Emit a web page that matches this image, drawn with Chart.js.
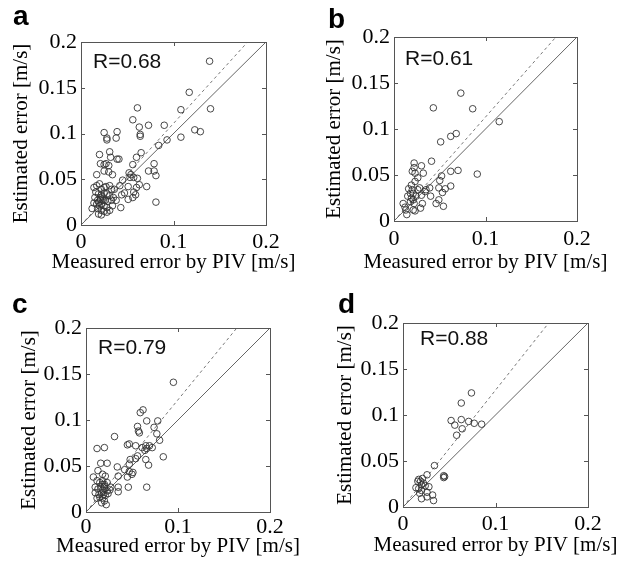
<!DOCTYPE html>
<html>
<head>
<meta charset="utf-8">
<script src="https://cdn.jsdelivr.net/npm/chart.js@4.4.1/dist/chart.umd.min.js"></script>
<style>
  html, body { margin: 0; padding: 0; background: #fff; }
  #wrap { position: relative; width: 618px; height: 566px; overflow: hidden; }
  canvas { position: absolute; }
</style>
</head>
<body>
<div id="wrap">
  <canvas id="panelA" width="309" height="283" style="left:0;top:0"></canvas>
  <canvas id="panelB" width="309" height="283" style="left:309px;top:0"></canvas>
  <canvas id="panelC" width="309" height="283" style="left:0;top:283px"></canvas>
  <canvas id="panelD" width="309" height="283" style="left:309px;top:283px"></canvas>
</div>
<script>
const panelLetters = ["a", "b", "c", "d"];
const rLabels = ["R=0.68", "R=0.61", "R=0.79", "R=0.88"];
// slope of the dashed fit line in each panel
const fitSlopes = [1.11, 1.13, 1.22, 1.27];
const xTickValues = [0, 0.1, 0.2];
const xTickLabels = ["0", "0.1", "0.2"];
const yTickValues = [0, 0.05, 0.1, 0.15, 0.2];
const yTickLabels = ["0", "0.05", "0.1", "0.15", "0.2"];
const xAxisTitle = "Measured error by PIV [m/s]";
const yAxisTitle = "Estimated error [m/s]";

const pointsA = [
  [0.139,0.179],[0.117,0.145],[0.140,0.127],[0.108,0.126],[0.123,0.104],[0.129,0.102],
  [0.108,0.096],[0.093,0.093],[0.084,0.087],[0.090,0.109],[0.073,0.109],[0.061,0.128],
  [0.056,0.115],[0.063,0.107],[0.064,0.099],[0.064,0.097],[0.065,0.079],[0.060,0.074],
  [0.056,0.066],[0.079,0.067],[0.073,0.059],[0.079,0.059],[0.081,0.054],[0.071,0.042],
  [0.081,0.025],[0.025,0.101],[0.028,0.093],[0.028,0.095],[0.039,0.102],[0.038,0.095],
  [0.031,0.080],[0.020,0.077],[0.032,0.074],[0.039,0.072],[0.041,0.072],[0.027,0.067],
  [0.030,0.065],[0.025,0.066],[0.021,0.067],[0.030,0.058],[0.034,0.055],[0.017,0.055],
  [0.025,0.059],[0.052,0.057],[0.054,0.055],[0.057,0.052],[0.053,0.052],[0.061,0.051],
  [0.063,0.044],[0.060,0.041],[0.057,0.036],[0.059,0.033],[0.051,0.042],[0.045,0.049],
  [0.042,0.043],[0.047,0.035],[0.044,0.033],[0.051,0.028],[0.043,0.019],[0.036,0.039],
  [0.035,0.030],[0.056,0.030],
  [0.014,0.041],[0.017,0.043],[0.020,0.045],[0.022,0.039],[0.025,0.041],[0.027,0.042],
  [0.031,0.043],[0.033,0.039],[0.016,0.036],[0.019,0.034],[0.022,0.033],[0.025,0.035],
  [0.028,0.034],[0.031,0.032],[0.015,0.030],[0.018,0.027],[0.021,0.028],[0.024,0.027],
  [0.026,0.027],[0.029,0.026],[0.033,0.027],[0.017,0.023],[0.020,0.021],[0.022,0.023],
  [0.025,0.021],[0.028,0.019],[0.018,0.018],[0.022,0.016],[0.025,0.015],[0.028,0.014],
  [0.019,0.012],[0.022,0.011],[0.031,0.016],[0.034,0.021],[0.012,0.018],[0.014,0.024],
  [0.038,0.027],[0.021,0.030],[0.023,0.031],[0.019,0.025]
];

const pointsB = [
  [0.073,0.139],[0.043,0.123],[0.086,0.122],[0.115,0.108],[0.068,0.095],[0.062,0.092],
  [0.051,0.086],[0.041,0.065],[0.022,0.063],[0.030,0.060],[0.022,0.058],[0.020,0.054],
  [0.032,0.052],[0.023,0.052],[0.026,0.047],[0.023,0.043],[0.019,0.039],[0.052,0.049],
  [0.050,0.044],[0.062,0.054],[0.070,0.055],[0.091,0.051],[0.035,0.034],[0.039,0.036],
  [0.049,0.036],[0.053,0.031],[0.056,0.035],[0.062,0.038],[0.040,0.027],[0.049,0.023],
  [0.046,0.019],[0.054,0.016],[0.031,0.019],[0.029,0.014],[0.023,0.011],[0.021,0.012],
  [0.014,0.007],[0.010,0.019],[0.012,0.015],[0.015,0.027],[0.018,0.030],[0.019,0.025],
  [0.021,0.030],[0.024,0.027],[0.026,0.034],[0.021,0.023],[0.018,0.021],[0.030,0.028],
  [0.034,0.032],[0.028,0.036],[0.020,0.034],[0.016,0.035],[0.022,0.019],[0.013,0.012]
];

const pointsC = [
  [0.095,0.141],[0.062,0.111],[0.059,0.108],[0.056,0.093],[0.066,0.099],[0.078,0.099],
  [0.074,0.092],[0.058,0.086],[0.057,0.088],[0.077,0.085],[0.080,0.078],[0.031,0.082],
  [0.045,0.073],[0.047,0.074],[0.054,0.072],[0.061,0.070],[0.064,0.067],[0.066,0.069],
  [0.069,0.072],[0.072,0.070],[0.065,0.072],[0.084,0.060],[0.065,0.057],[0.068,0.051],
  [0.056,0.061],[0.054,0.058],[0.048,0.057],[0.047,0.052],[0.034,0.049],[0.042,0.046],
  [0.047,0.044],[0.051,0.043],[0.050,0.041],[0.045,0.038],[0.035,0.039],[0.066,0.027],
  [0.046,0.027],[0.035,0.027],[0.035,0.022],[0.012,0.069],[0.020,0.070],[0.016,0.053],
  [0.023,0.053],[0.013,0.045],[0.018,0.041],[0.021,0.039],[0.008,0.038],[0.012,0.034],
  [0.015,0.032],[0.018,0.034],[0.020,0.030],[0.023,0.032],[0.010,0.027],[0.013,0.025],
  [0.016,0.027],[0.018,0.024],[0.020,0.026],[0.023,0.023],[0.010,0.021],[0.014,0.019],
  [0.017,0.021],[0.019,0.019],[0.021,0.018],[0.024,0.020],[0.015,0.016],[0.018,0.015],
  [0.020,0.012],[0.022,0.008],[0.017,0.010],[0.012,0.015],[0.026,0.024],[0.027,0.027],
  [0.018,0.030],[0.020,0.028]
];

const pointsD = [
  [0.074,0.124],[0.063,0.113],[0.052,0.094],[0.063,0.095],[0.071,0.093],[0.077,0.091],
  [0.085,0.090],[0.056,0.089],[0.064,0.085],[0.058,0.078],[0.034,0.045],[0.026,0.035],
  [0.044,0.034],[0.044,0.032],[0.045,0.033],[0.017,0.030],[0.019,0.028],[0.022,0.026],
  [0.020,0.024],[0.028,0.022],[0.024,0.023],[0.014,0.021],[0.017,0.020],[0.020,0.018],
  [0.026,0.016],[0.018,0.015],[0.032,0.013],[0.026,0.011],[0.020,0.009],[0.033,0.007],
  [0.016,0.028],[0.021,0.031]
];

const panelPoints = [pointsA, pointsB, pointsC, pointsD];

// canvas-local plot box [left, right, top, bottom] and text placement
const panelLayout = [
  { id: "panelA", area: [81, 266, 42, 225], yTitleX: 21, xTitleY: 262, xTickPad: 4, letter: [13, 25], rText: [93, 68] },
  { id: "panelB", area: [85, 268, 37, 221], yTitleX: 25, xTitleY: 262, xTickPad: 5, letter: [19, 28], rText: [96, 65] },
  { id: "panelC", area: [86, 270, 45, 229], yTitleX: 29, xTitleY: 263, xTickPad: 2, letter: [12, 30], rText: [98, 71] },
  { id: "panelD", area: [94, 279, 40, 224], yTitleX: 36, xTitleY: 262, xTickPad: 4, letter: [29, 30], rText: [111, 62] }
];

const serif = "'Liberation Serif', 'Times New Roman', serif";
const sans = "'Liberation Sans', Arial, sans-serif";

// MATLAB-style frame with inward ticks, axis titles, panel letter and R value
const framePlugin = {
  id: "frame",
  afterDraw(chart, args, opts) {
    const { ctx, chartArea: a, scales } = chart;
    ctx.save();
    ctx.strokeStyle = "#555";
    ctx.lineWidth = 1;
    ctx.strokeRect(Math.round(a.left) + 0.5, Math.round(a.top) + 0.5,
      Math.round(a.right - a.left), Math.round(a.bottom - a.top));
    const len = 4;
    ctx.beginPath();
    xTickValues.forEach(v => {
      const px = Math.round(scales.x.getPixelForValue(v)) + 0.5;
      ctx.moveTo(px, a.bottom); ctx.lineTo(px, a.bottom - len);
      ctx.moveTo(px, a.top); ctx.lineTo(px, a.top + len);
    });
    yTickValues.forEach(v => {
      const py = Math.round(scales.y.getPixelForValue(v)) + 0.5;
      ctx.moveTo(a.left, py); ctx.lineTo(a.left + len, py);
      ctx.moveTo(a.right, py); ctx.lineTo(a.right - len, py);
    });
    ctx.stroke();

    ctx.fillStyle = "#000";
    ctx.font = "21px " + serif;
    ctx.textAlign = "center";
    ctx.textBaseline = "middle";
    ctx.fillText(xAxisTitle, (a.left + a.right) / 2, opts.xTitleY);
    ctx.save();
    ctx.translate(opts.yTitleX, (a.top + a.bottom) / 2);
    ctx.rotate(-Math.PI / 2);
    ctx.fillText(yAxisTitle, 0, 0);
    ctx.restore();

    ctx.textBaseline = "alphabetic";
    ctx.textAlign = "left";
    ctx.font = "bold 28px " + sans;
    ctx.fillText(opts.letter, opts.letterPos[0], opts.letterPos[1]);
    ctx.fillStyle = "#111";
    ctx.font = "21px " + sans;
    ctx.fillText(opts.r, opts.rPos[0], opts.rPos[1]);
    ctx.restore();
  }
};

panelLayout.forEach((lay, i) => {
  const canvas = document.getElementById(lay.id);
  const [left, right, top, bottom] = lay.area;
  const slope = fitSlopes[i];
  new Chart(canvas, {
    type: "scatter",
    data: {
      datasets: [
        {
          data: panelPoints[i].map(p => ({ x: p[0], y: p[1] })),
          pointStyle: "circle",
          pointRadius: 3.3,
          pointBorderWidth: 0.9,
          pointBorderColor: "#333",
          pointBackgroundColor: "rgba(0,0,0,0)",
          order: 1
        },
        {
          type: "line",
          data: [{ x: 0, y: 0 }, { x: 0.2, y: 0.2 }],
          borderColor: "#666",
          borderWidth: 1,
          pointRadius: 0,
          order: 2
        },
        {
          type: "line",
          data: [{ x: 0, y: 0 }, { x: 0.2 / slope, y: 0.2 }],
          borderColor: "#777",
          borderWidth: 1,
          borderDash: [3, 3],
          pointRadius: 0,
          order: 3
        }
      ]
    },
    options: {
      responsive: false,
      animation: false,
      devicePixelRatio: 1,
      layout: { padding: { left: 0, top: top, right: 309 - right, bottom: 0 } },
      plugins: {
        legend: { display: false },
        tooltip: { enabled: false },
        frame: {
          letter: panelLetters[i], letterPos: lay.letter,
          r: rLabels[i], rPos: lay.rText,
          xTitleY: lay.xTitleY, yTitleX: lay.yTitleX
        }
      },
      scales: {
        x: {
          type: "linear",
          min: 0,
          max: 0.2,
          grid: { display: false, drawTicks: false, tickLength: 0 },
          border: { display: false },
          afterBuildTicks: s => { s.ticks = xTickValues.map(v => ({ value: v })); },
          afterFit: s => { s.height = 283 - bottom; },
          ticks: {
            autoSkip: false,
            maxRotation: 0,
            padding: lay.xTickPad,
            color: "#000",
            font: { family: serif, size: 22 },
            callback: (v, idx) => xTickLabels[idx]
          }
        },
        y: {
          type: "linear",
          min: 0,
          max: 0.2,
          grid: { display: false, drawTicks: false, tickLength: 0 },
          border: { display: false },
          afterBuildTicks: s => { s.ticks = yTickValues.map(v => ({ value: v })); },
          afterFit: s => { s.width = left; },
          ticks: {
            autoSkip: false,
            padding: 4,
            color: "#000",
            font: { family: serif, size: 22 },
            callback: (v, idx) => yTickLabels[idx]
          }
        }
      }
    },
    plugins: [framePlugin]
  });
});
</script>
</body>
</html>
